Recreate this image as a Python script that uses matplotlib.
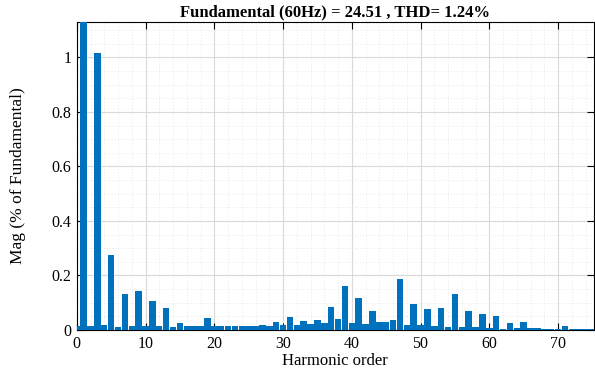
import numpy as np
import matplotlib.pyplot as plt
from matplotlib.ticker import MultipleLocator

plt.rcParams['font.family'] = ['Liberation Serif', 'DejaVu Serif']

# harmonic spectrum, % of fundamental (h0 .. h75)
orders = list(range(0, 76))
mag = [
    0.015, 100.0, 0.016, 1.015, 0.020, 0.276, 0.012, 0.132, 0.015, 0.143,   # 0-9
    0.015, 0.108, 0.014, 0.081, 0.012, 0.024, 0.014, 0.013, 0.013, 0.043,   # 10-19
    0.014, 0.013, 0.015, 0.013, 0.014, 0.014, 0.015, 0.018, 0.016, 0.029,   # 20-29
    0.018, 0.049, 0.020, 0.033, 0.022, 0.038, 0.024, 0.086, 0.040, 0.162,   # 30-39
    0.027, 0.119, 0.022, 0.070, 0.031, 0.031, 0.035, 0.188, 0.018, 0.094,   # 40-49
    0.018, 0.076, 0.015, 0.081, 0.010, 0.132, 0.010, 0.071, 0.010, 0.058,   # 50-59
    0.008, 0.052, 0.005, 0.027, 0.006, 0.029, 0.006, 0.008, 0.005, 0.005,   # 60-69
    0.004, 0.015, 0.002, 0.004, 0.003, 0.004,                               # 70-75
]

fund_hz = 60
fund_mag = 24.51
thd = 1.24

fig = plt.figure(figsize=(5.95, 3.72), dpi=100)
ax = fig.add_axes([0.129, 0.113, 0.869, 0.828])

ax.bar(orders, mag, width=0.94, color='#0072BD', edgecolor='none', zorder=3)

ax.set_xlim(0, 75.2)
ax.set_ylim(0, 1.13)
ax.xaxis.set_major_locator(MultipleLocator(10))
ax.xaxis.set_minor_locator(MultipleLocator(2))
ax.yaxis.set_major_locator(MultipleLocator(0.2))
ax.yaxis.set_minor_locator(MultipleLocator(0.05))
ax.set_yticks([0, 0.2, 0.4, 0.6, 0.8, 1.0])
ax.set_yticklabels(['0', '0.2', '0.4', '0.6', '0.8', '1'])

ax.grid(which='major', color='#d9d9d9', linewidth=0.8, zorder=0)
ax.grid(which='minor', color='#e8e8e8', linestyle=(0, (1, 2)), linewidth=0.7, zorder=0)
ax.set_axisbelow(True)

ax.tick_params(which='major', direction='in', length=5, width=0.8,
               top=True, right=True, labelsize=11.5, pad=4)
ax.tick_params(which='minor', length=0, top=True, right=True)
for s in ax.spines.values():
    s.set_linewidth(0.8)

ax.set_xlabel('Harmonic order', fontsize=12, labelpad=1)
ax.set_ylabel('Mag (% of Fundamental)', fontsize=12.5, labelpad=18)
ax.set_title(f'Fundamental ({fund_hz}Hz) = {fund_mag} , THD= {thd}%',
             fontsize=12, fontweight='bold', pad=4)

fig.savefig('out.png', dpi=100)
